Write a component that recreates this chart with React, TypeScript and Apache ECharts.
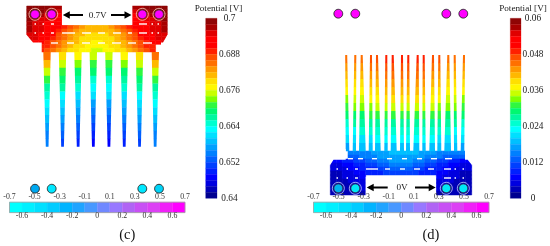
import React, { useEffect, useRef } from "react";
import * as echarts from "echarts";

const _ = null;

// Banded rainbow of the potential colour bars, top (highest) to bottom (lowest)
const potentialColors = [
  "#8f0505", "#a80000", "#e00000", "#ff0000", "#ff0000", "#ff2000", "#ff5000", "#ff7000", "#ff9800", "#ffb800",
  "#ffe000", "#fff800", "#c8ff00", "#80ff00", "#30f840", "#00f870", "#00f8a0", "#00ffd0", "#00ffff", "#00e0ff",
  "#00c0ff", "#00a0ff", "#0080ff", "#0060ff", "#0040ff", "#0020ff", "#0000ff", "#0000e0", "#0000b8", "#000090",
];
const appliedColors = [
  "#00ffff", "#00f0ff", "#00e0ff", "#00ccff", "#00b4ff", "#20a4ff", "#4898ff",
  "#7088ff", "#9878ff", "#b064f4", "#c850f4", "#dc40f4", "#f020f8", "#ff00ff",
];

const cTicks = ["0.7", "0.688", "0.676", "0.664", "0.652", "0.64"];
const dTicks = ["0.06", "0.048", "0.036", "0.024", "0.012", "0"];
const upperVolts = [-0.7, -0.5, -0.3, -0.1, 0.1, 0.3, 0.5, 0.7];
const lowerVolts = [-0.6, -0.4, -0.2, 0, 0.2, 0.4, 0.6];

// potential in mV of panel (c): body cells, top to bottom, left to right
const cBody = [
  [698, 698, 698, 698, 697, 696, _, _, _, _, _, _, _, _, _, _, _, _, 696, 697, 698, 698, 698, 698],
  [698, 698, 698, 696, 696, 695, _, _, _, _, _, _, _, _, _, _, _, _, 695, 696, 696, 698, 698, 698],
  [698, 698, 696, 695, 694, 693, _, _, _, _, _, _, _, _, _, _, _, _, 693, 694, 695, 696, 698, 698],
  [698, 696, 695, 694, 693, 692, _, _, _, _, _, _, _, _, _, _, _, _, 692, 693, 694, 695, 696, 698],
  [696, 695, 694, 693, 692, 692, _, _, _, _, _, _, _, _, _, _, _, _, 692, 692, 693, 694, 695, 696],
  [696, 695, 694, 693, 692, 691, 688, 686, 684, 682, 681, 681, 681, 681, 682, 684, 686, 688, 691, 692, 693, 694, 695, 696],
  [696, 695, 694, 693, 691, 689, 686, 684, 682, 681, 680, 680, 680, 680, 681, 682, 684, 686, 689, 691, 693, 694, 695, 696],
  [695, 694, 693, 691, 690, 687, 685, 683, 681, 680, 679, 679, 679, 679, 680, 681, 683, 685, 687, 690, 691, 693, 694, 695],
  [695, 694, 692, 690, 688, 686, 684, 682, 680, 679, 678, 678, 678, 678, 679, 680, 682, 684, 686, 688, 690, 692, 694, 695],
  [694, 693, 690, 689, 687, 685, 683, 681, 680, 678, 678, 677, 677, 678, 678, 680, 681, 683, 685, 687, 689, 690, 693, 694],
  [_, _, 689, 688, 686, 684, 682, 680, 679, 678, 677, 676, 676, 677, 678, 679, 680, 682, 684, 686, 688, 689, _, _],
  [_, _, 688, 687, 685, 682, 680, 679, 678, 677, 676, 675, 675, 676, 677, 678, 679, 680, 682, 685, 687, 688, _, _],
];
// potential in mV of panel (c): one row per tooth, root to tip
const cTeeth = [
  [684, 680, 674, 670, 667, 665, 662, 660, 658, 657, 655, 654],
  [678, 675, 671, 668, 666, 663, 661, 659, 657, 655, 653, 651],
  [676, 672, 669, 666, 664, 661, 659, 656, 654, 652, 650, 648],
  [675, 671, 668, 665, 662, 660, 657, 655, 652, 650, 648, 646],
  [675, 671, 668, 665, 662, 660, 657, 655, 652, 650, 648, 646],
  [676, 672, 669, 666, 664, 661, 659, 656, 654, 652, 650, 648],
  [678, 675, 671, 668, 666, 663, 661, 659, 657, 655, 653, 651],
  [684, 680, 674, 670, 667, 665, 662, 660, 658, 657, 655, 654],
];
// potential in mV of panel (d): body cells
const dBody = [
  [_, _, _, 14, 14, 15, 15, 16, 16, 17, 18, 18, 18, 18, 18, 17, 16, 16, 15, 15, 14, 14, 14, _],
  [_, _, _, 12, 13, 14, 14, 15, 16, 17, 17, 17, 17, 17, 17, 16, 15, 14, 14, 13, 12, 12, 12, _],
  [6, 6, 8, 9, 10, 11, 12, 13, 14, 15, 16, 16, 16, 16, 15, 14, 13, 12, 11, 10, 9, 8, 7, 6],
  [5, 5, 6, 7, 8, 9, 10, 11, 12, 13, 14, 14, 14, 14, 13, 12, 11, 10, 9, 8, 7, 6, 5, 5],
  [4, 4, 5, 6, 7, 8, 8, 9, 10, 11, 12, 12, 12, 12, 11, 10, 9, 8, 8, 7, 6, 5, 4, 4],
  [3, 3, 4, 5, 6, 7, 8, 8, 9, 10, 10, 10, 10, 10, 10, 9, 8, 8, 7, 6, 5, 4, 3, 3],
  [3, 3, 4, 4, 5, 6, _, _, _, _, _, _, _, _, _, _, _, _, 6, 5, 4, 4, 3, 3],
  [2, 3, 3, 4, 4, 5, _, _, _, _, _, _, _, _, _, _, _, _, 5, 4, 4, 3, 3, 2],
  [2, 2, 3, 3, 4, 4, _, _, _, _, _, _, _, _, _, _, _, _, 4, 4, 3, 3, 2, 2],
  [2, 2, 2, 3, 3, 4, _, _, _, _, _, _, _, _, _, _, _, _, 4, 3, 3, 2, 2, 2],
  [2, 2, 2, 2, 3, 3, _, _, _, _, _, _, _, _, _, _, _, _, 3, 3, 2, 2, 2, 2],
];
// potential in mV of panel (d): one row per tooth, tip to root
const dTeeth = [
  [44, 42, 40, 38, 36, 33, 31, 28, 25, 22, 20, 17],
  [45, 43, 41, 39, 37, 34, 32, 29, 26, 23, 20, 18],
  [45, 43, 41, 39, 37, 35, 33, 29, 26, 24, 21, 18],
  [46, 44, 42, 40, 38, 36, 33, 30, 27, 24, 21, 18],
  [47, 45, 43, 41, 39, 37, 34, 30, 27, 25, 22, 19],
  [48, 46, 44, 42, 40, 38, 34, 30, 27, 25, 22, 19],
  [48, 46, 44, 42, 40, 38, 34, 30, 27, 25, 22, 19],
  [48, 46, 44, 42, 40, 38, 34, 30, 27, 25, 22, 19],
  [48, 46, 44, 42, 40, 38, 34, 30, 27, 25, 22, 19],
  [48, 46, 44, 42, 40, 38, 34, 30, 27, 25, 22, 19],
  [48, 46, 44, 42, 40, 38, 34, 30, 27, 25, 22, 19],
  [47, 45, 43, 41, 39, 37, 34, 30, 27, 25, 22, 19],
  [46, 44, 42, 40, 38, 36, 33, 30, 27, 24, 21, 18],
  [45, 43, 41, 39, 37, 35, 33, 29, 26, 24, 21, 18],
  [45, 43, 41, 39, 37, 34, 32, 29, 26, 23, 20, 18],
  [44, 42, 40, 38, 36, 33, 31, 28, 25, 22, 20, 17],
];

// electrode colours of each panel's probe circles
const cProbeColors = ["#00a8f0", "#00e8ff", "#00e8ff", "#00d4f8"];
const dProbeColors = ["#00b0f0", "#00e8f8", "#00e8f8", "#00e8f8"];

type Item =
  | { t: "poly"; p: number[][]; f: string; s?: string; w?: number }
  | { t: "circle"; c: number[]; r: number; f: string; s: string; w: number }
  | { t: "text"; c: number[]; v: string; size: number; f: string };

const cells: Item[] = [];
const masks: Item[] = [];
const overlay: Item[] = [];

const colorOf = (v: number, base: number) => {
  const idx = Math.max(0, Math.min(29, Math.floor((v - base) / 2)));
  return potentialColors[29 - idx];
};
const rect = (x0: number, y0: number, x1: number, y1: number) => [[x0, y0], [x1, y0], [x1, y1], [x0, y1]];

const addField = (rows: (number | null)[][], base: number, x0: number, x1: number, y0: number, y1: number) => {
  const w = (x1 - x0) / rows[0].length;
  const h = (y1 - y0) / rows.length;
  rows.forEach((row, r) =>
    row.forEach((v, c) => {
      if (v === null) return;
      const fill = colorOf(v, base);
      cells.push({ t: "poly", p: rect(x0 + c * w, y0 + r * h, x0 + (c + 1) * w, y0 + (r + 1) * h), f: fill, s: fill, w: 0.5 });
    }),
  );
};
addField(cBody, 640, 26.7, 167.3, 6, 52);
addField(dBody, 0, 330.3, 471.7, 151, 195);

// tooth outlines: [left, right] at the start and the end of each tooth
const cToothRoots = [[43.3, 50.7], [58.8, 66.2], [74.3, 81.7], [89.6, 97], [105.2, 112.6], [120.5, 128], [135.8, 143.2], [151.7, 159]];
const cToothTips = [[45.8, 48.5], [61.2, 63.9], [76.8, 79.5], [92, 94.7], [107.6, 110.3], [122.9, 125.6], [138.2, 140.9], [153.8, 156.5]];
const dToothTips = [345.2, 354.3, 360.7, 370, 376, 385.3, 391.7, 401, 407.3, 416.7, 422.7, 432, 438.3, 447.3, 453.7, 463].map((x) => [x, x + 2]);
const dToothRoots = [
  [345.7, 349.3], [352.7, 356], [359, 365.7], [368.7, 372.7], [375, 380.7], [384.3, 387.7], [390.7, 396.7], [400, 404],
  [406, 410], [413.3, 419.3], [422.3, 425.7], [429.3, 435], [437.3, 441.3], [444.3, 451], [454, 457.3], [460.7, 464.3],
];
const addTeeth = (rows: number[][], base: number, starts: number[][], ends: number[][], y0: number, y1: number) => {
  rows.forEach((row, i) => {
    row.forEach((v, k) => {
      const a = k / row.length;
      const b = (k + 1) / row.length;
      const lerp = (s: number, e: number, q: number) => s + (e - s) * q;
      const fill = colorOf(v, base);
      cells.push({
        t: "poly",
        p: [
          [lerp(starts[i][0], ends[i][0], a), lerp(y0, y1, a)],
          [lerp(starts[i][1], ends[i][1], a), lerp(y0, y1, a)],
          [lerp(starts[i][1], ends[i][1], b), lerp(y0, y1, b) + 0.3],
          [lerp(starts[i][0], ends[i][0], b), lerp(y0, y1, b) + 0.3],
        ],
        f: fill,
      });
    });
  });
};
addTeeth(cTeeth, 640, cToothRoots, cToothTips, 52, 146.5);
addTeeth(dTeeth, 0, dToothTips, dToothRoots, 55, 151);

// white outside of the outlines
[
  [[62, 4], [132.3, 4], [132.3, 25], [62, 25]],
  [[25, 35], [26.7, 35], [33, 42.5], [41.7, 42.5], [41.7, 53], [25, 53]],
  [[169, 35], [167.3, 35], [163, 42.5], [161, 42.5], [161, 53], [169, 53]],
  [[365.7, 177], [436, 177], [436, 197], [365.7, 197]],
  [[329, 149], [345.7, 149], [345.7, 159.7], [333.5, 159.7], [330.3, 164.7], [329, 164.7]],
  [[473, 149], [465, 149], [465, 159.7], [467.7, 159.7], [471.7, 164.7], [473, 164.7]],
].forEach((p) => masks.push({ t: "poly", p, f: "#ffffff" }));

// slits of the metal body
const slits: number[][] = [
  [34.5, 36, 24], [42.5, 44, 24], [51, 54, 24], [139, 147, 24], [151.5, 153, 24], [157.5, 159, 24],
  [34.5, 36, 33], [42.5, 44, 33], [51, 54, 33], [62, 75, 33], [82, 91, 33], [98, 105, 33], [113, 121, 33], [128, 132, 33], [139, 147, 33], [151.5, 153, 33], [157.5, 159, 33],
  [51, 58, 43], [67, 74, 43], [82, 90, 43], [98, 105, 43], [112, 121, 43], [128, 136, 43], [143, 152, 43],
  [348, 353, 158.7], [358, 363, 158.7], [372, 377, 158.7], [387, 392, 158.7], [402, 407, 158.7], [417, 422, 158.7], [431, 437, 158.7], [445, 452, 158.7],
  [336.5, 338, 169], [346.5, 348, 169], [355, 358, 169], [366, 378, 169], [385, 390, 169], [400, 405, 169], [414, 420, 169], [428, 434, 169], [444, 451, 169], [454.5, 456, 169], [462.5, 464, 169],
  [336.5, 338, 178], [346.5, 348, 178], [355, 358, 178], [444, 451, 178], [454.5, 456, 178], [462.5, 464, 178],
];
slits.forEach(([x0, x1, y]) => masks.push({ t: "poly", p: rect(x0, y - 0.7, x1, y + 0.7), f: "#ffffff" }));

// colour bars
const addBar = (x0: number, x1: number, textX: number, labels: string[], titleX: number) => {
  const y0 = 18.3;
  const y1 = 198.3;
  const h = (y1 - y0) / potentialColors.length;
  potentialColors.forEach((f, i) => cells.push({ t: "poly", p: rect(x0, y0 + i * h, x1, y0 + (i + 1) * h), f, s: f, w: 0.3 }));
  labels.forEach((v, i) => overlay.push({ t: "text", c: [textX, y0 - 0.8 + ((y1 - y0) * i) / (labels.length - 1)], v, size: 9.3, f: "#1a1a1a" }));
  overlay.push({ t: "text", c: [titleX, 7.8], v: "Potential [V]", size: 9.2, f: "#1a1a1a" });
};
addBar(205.7, 217, 229.5, cTicks, 218.5);
addBar(510.3, 521, 533, dTicks, 523);

const addScale = (x0: number, x1: number) => {
  const y0 = 202.2;
  const y1 = 212.6;
  const w = (x1 - x0) / appliedColors.length;
  appliedColors.forEach((f, i) => cells.push({ t: "poly", p: rect(x0 + i * w, y0, x0 + (i + 1) * w, y1), f, s: f, w: 0.3 }));
  masks.push({ t: "poly", p: rect(x0, y0, x1, y1), f: "none", s: "#a0a0a0", w: 0.8 });
  const xOf = (v: number) => x0 + ((v + 0.7) / 1.4) * (x1 - x0);
  upperVolts.forEach((v) => overlay.push({ t: "text", c: [xOf(v), 196.3], v: String(v), size: 7.8, f: "#333333" }));
  lowerVolts.forEach((v) => overlay.push({ t: "text", c: [xOf(v), 215.3], v: String(v), size: 7.8, f: "#333333" }));
};
addScale(9.5, 185);
addScale(313.5, 489);

// electrodes and probes
const ringed = (cx: number, cy: number, fill: string, ring: string) => {
  overlay.push({ t: "circle", c: [cx, cy], r: 6, f: "none", s: ring, w: 0.8 });
  overlay.push({ t: "circle", c: [cx, cy], r: 4.4, f: fill, s: "#333333", w: 0.8 });
};
const plain = (cx: number, cy: number, fill: string) => overlay.push({ t: "circle", c: [cx, cy], r: 4.4, f: fill, s: "#222222", w: 0.9 });

const cX = [35, 51.7, 142.3, 159];
const dX = [338.3, 355.3, 446.3, 463.3];
cX.forEach((x) => ringed(x, 14.3, "#ff00ff", "#f4d0c0"));
cX.forEach((x, i) => plain(x, 188.7, cProbeColors[i]));
dX.forEach((x) => plain(x, 13.7, "#ff00ff"));
dX.forEach((x, i) => ringed(x, 188.3, dProbeColors[i], "#d0d8f8"));

const arrow = (tip: number, tail: number, y: number) => {
  const d = tail > tip ? 1 : -1;
  overlay.push({ t: "poly", p: [[tip, y], [tip + d * 7, y - 3.8], [tip + d * 7, y - 1], [tail, y - 1], [tail, y + 1], [tip + d * 7, y + 1], [tip + d * 7, y + 3.8]], f: "#000000" });
};
arrow(62.8, 83, 15);
arrow(131.5, 111, 15);
arrow(366.7, 387.7, 187.5);
arrow(435.7, 415, 187.5);
overlay.push({ t: "text", c: [97.7, 15], v: "0.7V", size: 9.2, f: "#1a1a1a" });
overlay.push({ t: "text", c: [402, 187.3], v: "0V", size: 9.2, f: "#1a1a1a" });
overlay.push({ t: "text", c: [127.3, 234.3], v: "(c)", size: 14.5, f: "#111111" });
overlay.push({ t: "text", c: [431, 234.3], v: "(d)", size: 14.5, f: "#111111" });

const layer = (items: Item[], z: number) => ({
  type: "custom" as const,
  z,
  silent: true,
  clip: false,
  coordinateSystem: "cartesian2d",
  data: items.map((_it, i) => [i, i]),
  encode: { x: 0, y: 1 },
  renderItem: (params: any, api: any) => {
    const it = items[params.dataIndex];
    if (it.t === "poly") {
      return {
        type: "polygon",
        shape: { points: it.p.map((q) => api.coord(q)) },
        style: { fill: it.f, stroke: it.s ?? "none", lineWidth: it.w ?? 0 },
      };
    }
    const [x, y] = api.coord(it.c);
    if (it.t === "circle") {
      return { type: "circle", shape: { cx: x, cy: y, r: it.r }, style: { fill: it.f, stroke: it.s, lineWidth: it.w } };
    }
    return {
      type: "text",
      style: {
        x,
        y,
        text: it.v,
        fill: it.f,
        fontFamily: "Liberation Serif",
        fontSize: it.size,
        textAlign: "center",
        textVerticalAlign: "middle",
      },
    };
  },
});

export default function App() {
  const ref = useRef<HTMLDivElement>(null);
  useEffect(() => {
    document.body.style.margin = "0";
    const chart = echarts.init(ref.current!, undefined, { renderer: "svg" });
    chart.setOption({
      animation: false,
      backgroundColor: "#ffffff",
      grid: { left: 0, right: 0, top: 0, bottom: 0 },
      xAxis: { type: "value", min: 0, max: 550, show: false },
      yAxis: { type: "value", min: 0, max: 246, inverse: true, show: false },
      series: [layer(cells, 1), layer(masks, 2), layer(overlay, 3)],
    });
    return () => chart.dispose();
  }, []);
  return <div ref={ref} style={{ width: 550, height: 246, filter: "blur(0.4px)" }} />;
}
